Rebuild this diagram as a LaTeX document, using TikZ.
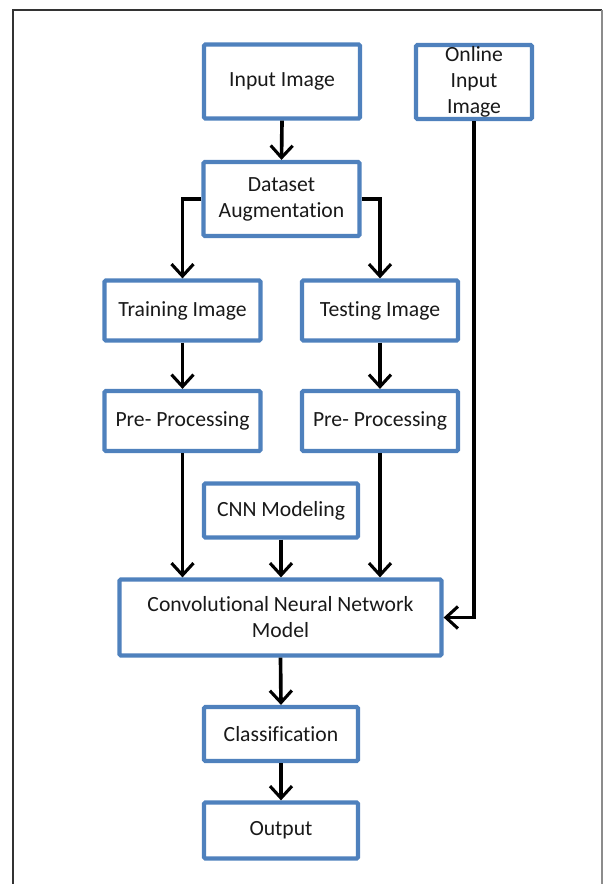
\documentclass[tikz,border=0pt]{standalone}
\usepackage{fontspec}
\setmainfont{Carlito}[Ligatures={NoCommon}]
\usetikzlibrary{arrows.meta}

\definecolor{boxblue}{RGB}{79,129,189}
\tikzset{
    stepbox/.style={draw=boxblue, line width=3pt, rounded corners=1pt, fill=white,
        align=center, inner sep=0pt, font=\fontsize{15.4}{18.5}\selectfont, text=black!90},
    flow/.style={-{Straight Barb[length=3mm,width=5.5mm,line width=2.2pt]}, line width=2.6pt, black}
}

\begin{document}
\begin{tikzpicture}[x=0.025cm, y=-0.025cm]
        \useasboundingbox (0,0) rectangle (603,884);
        \draw[black!80, line width=0.8pt] (13,890) -- (13,10) -- (602,10);
        \draw[black!45, line width=0.8pt] (602,10) -- (602,890);

        \node[stepbox, minimum width=3.9cm, minimum height=1.85cm] (inimg) at (282,81.5) {Input Image};
        \node[stepbox, minimum width=2.9cm, minimum height=1.85cm] (online) at (474,82) {Online\\Input\\Image};
        \node[stepbox, minimum width=3.9cm, minimum height=1.85cm] (aug) at (281.5,199) {Dataset\\Augmentation};
        \node[stepbox, minimum width=3.9cm, minimum height=1.5cm] (train) at (182.5,310.5) {Training Image};
        \node[stepbox, minimum width=3.9cm, minimum height=1.5cm] (test) at (380,310.5) {Testing Image};
        \node[stepbox, minimum width=3.9cm, minimum height=1.5cm] (pre1) at (182.5,421) {Pre- Processing};
        \node[stepbox, minimum width=3.9cm, minimum height=1.5cm] (pre2) at (380,421) {Pre- Processing};
        \node[stepbox, minimum width=3.85cm, minimum height=1.35cm] (cnnmod) at (281,510.5) {CNN Modeling};
        \node[stepbox, minimum width=8.05cm, minimum height=1.9cm] (cnn) at (280.5,617.5) {Convolutional Neural Network\\Model};
        \node[stepbox, minimum width=3.85cm, minimum height=1.35cm] (cls) at (281,734) {Classification};
        \node[stepbox, minimum width=3.85cm, minimum height=1.4cm] (out) at (281,830.5) {Output};

        % connectors
        \draw[flow] (inimg.south) -- (aug.north);
        \draw[flow] (aug.west) -| (train.north);
        \draw[flow] (aug.east) -| (test.north);
        \draw[flow] (train.south) -- (pre1.north);
        \draw[flow] (test.south) -- (pre2.north);
        \draw[flow] (pre1.south) -- (pre1.south |- cnn.north);
        \draw[flow] (pre2.south) -- (pre2.south |- cnn.north);
        \draw[flow] (cnnmod.south) -- (cnnmod.south |- cnn.north);
        \draw[flow] (online.south) |- (cnn.east);
        \draw[flow] (cnn.south) -- (cls.north);
        \draw[flow] (cls.south) -- (out.north);
\end{tikzpicture}
\end{document}
